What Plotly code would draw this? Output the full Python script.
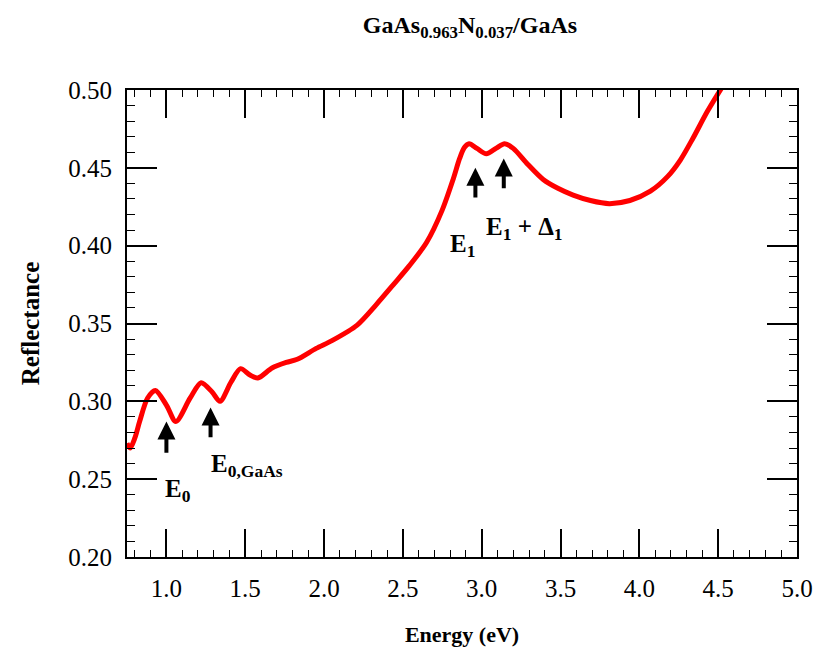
import plotly.graph_objects as go

# Reflectance spectrum
energy = [0.75, 0.77, 0.80, 0.83, 0.88, 0.93, 1.00, 1.06, 1.15, 1.22, 1.29, 1.34,
          1.41, 1.47, 1.53, 1.58, 1.67, 1.76, 1.83, 1.95, 2.05, 2.21, 2.33, 2.44,
          2.54, 2.65, 2.75, 2.82, 2.86, 2.89, 2.92, 2.97, 3.03, 3.09, 3.145, 3.20,
          3.29, 3.39, 3.48, 3.58, 3.69, 3.81, 3.94, 4.07, 4.18, 4.26, 4.34, 4.43, 4.52]
reflectance = [0.273, 0.270, 0.2765, 0.287, 0.302, 0.307, 0.2976, 0.287, 0.302, 0.312, 0.306, 0.300,
               0.3124, 0.321, 0.3169, 0.315, 0.3214, 0.325, 0.327, 0.334, 0.339, 0.349, 0.362, 0.375,
               0.387, 0.402, 0.423, 0.443, 0.456, 0.463, 0.4655, 0.4625, 0.459, 0.4625, 0.4655, 0.4625,
               0.4525, 0.4425, 0.437, 0.4325, 0.429, 0.427, 0.429, 0.435, 0.4445, 0.455, 0.469, 0.486, 0.501]

# Transition markers: label, energy, arrow tip, arrow tail, label position
marker_labels = ["E<sub>0</sub>", "E<sub>0,GaAs</sub>", "E<sub>1</sub>", "E<sub>1</sub> + Δ<sub>1</sub>"]
marker_energy = [1.00, 1.28, 2.96, 3.14]
arrow_tip = [0.287, 0.296, 0.450, 0.456]
arrow_tail = [0.266, 0.276, 0.430, 0.436]
label_x = [1.076, 1.514, 2.879, 3.273]
label_y = [0.243, 0.259, 0.400, 0.411]

font_family = "Liberation Serif, DejaVu Serif, serif"

fig = go.Figure()
fig.add_trace(go.Scatter(
    x=energy, y=reflectance, mode='lines',
    line=dict(color='#ff0000', width=5, shape='spline', smoothing=0.8),
    showlegend=False, hoverinfo='skip'
))

for lab, e, tip, tail, lx, ly in zip(marker_labels, marker_energy, arrow_tip, arrow_tail, label_x, label_y):
    fig.add_annotation(x=e, y=tip, ax=e, ay=tail, xref='x', yref='y', axref='x', ayref='y',
                       text='', showarrow=True, arrowhead=2, arrowsize=0.9, arrowwidth=4,
                       arrowcolor='black')
    fig.add_annotation(x=lx, y=ly, text='<b>' + lab + '</b>', showarrow=False,
                       font=dict(family=font_family, size=25, color='black'))

axis_common = dict(
    showgrid=False, zeroline=False, showline=True, linecolor='black', linewidth=2,
    mirror='allticks', ticks='inside', tickcolor='black', tickwidth=1.5,
    tickfont=dict(family=font_family, size=25, color='black'),
)

fig.update_xaxes(
    range=[0.75, 5.0], tick0=0, dtick=0.5, tickformat='.1f', ticklen=28, ticklabelstandoff=8,
    minor=dict(ticks='inside', dtick=0.1, tick0=0, ticklen=7, tickcolor='black', tickwidth=1.2),
    title=dict(text='<b>Energy (eV)</b>', font=dict(family=font_family, size=22, color='black'), standoff=26),
    **axis_common
)
fig.update_yaxes(
    range=[0.2, 0.5], tick0=0, dtick=0.05, tickformat='.2f', ticklen=30, ticklabelstandoff=8,
    minor=dict(ticks='inside', dtick=0.01, tick0=0, ticklen=8, tickcolor='black', tickwidth=1.2),
    title=dict(text='<b>Reflectance</b>', font=dict(family=font_family, size=25, color='black'), standoff=22),
    **axis_common
)

# the page body adds an 8px offset, so margins are shifted to compensate
fig.update_layout(
    width=822, height=665,
    margin=dict(l=119, r=33, t=82, b=116),
    paper_bgcolor='white', plot_bgcolor='white',
    title=dict(text='<b>GaAs<sub>0.963</sub>N<sub>0.037</sub>/GaAs</b>', x=0.562, xanchor='center',
               y=0.988, yanchor='top', font=dict(family=font_family, size=24, color='black')),
)

fig.write_html("out.html")
